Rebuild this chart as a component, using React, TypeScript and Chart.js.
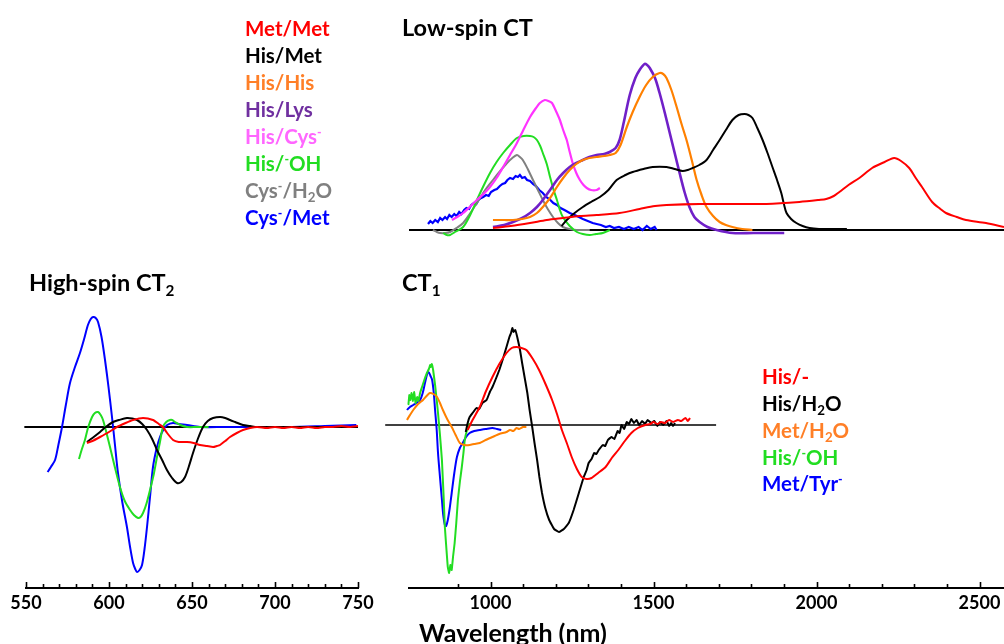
import React, { useEffect, useRef } from 'react';
import { Chart, registerables } from 'chart.js';

Chart.register(...registerables);

type Pt = [number, number];

// ---------- Low-spin CT panel: [wavelength nm, relative intensity] ----------
const metMetLS: Pt[] = [[1006,2],[1060,4],[1119,7],[1170,10],[1219,12],[1270,14],[1322,15],[1392,17],[1453,21],[1500,24],[1535,25],[1636,26],[1736,26],[1840,26],[1940,28],[2000,30],[2022,31],[2045,34],[2062,38],[2090,45],[2123,52],[2162,62],[2200,68],[2229,72],[2250,69],[2275,62],[2295,52],[2314,43],[2345,28],[2370,21],[2387,17],[2420,13],[2448,10],[2509,7],[2564,3]];
const hisMetLS: Pt[] = [[1215,4],[1231,10],[1255,17],[1280,23],[1305,28],[1332,33],[1358,40],[1383,50],[1410,55],[1432,58],[1465,61],[1493,63],[1535,63],[1560,61],[1584,59],[1600,60],[1615,62],[1635,65],[1657,70],[1677,80],[1697,90],[1716,100],[1736,110],[1755,115],[1773,116],[1785,115],[1797,112],[1812,102],[1828,90],[1843,77],[1858,63],[1872,50],[1885,37],[1893,26],[1901,17],[1915,11],[1931,7],[1950,4],[1971,2],[2000,1],[2030,1],[2085,1]];
const hisHisLS: Pt[] = [[1006,10],[1040,10],[1067,10],[1095,11],[1119,13],[1140,17],[1158,23],[1180,32],[1201,43],[1220,52],[1240,60],[1260,66],[1280,70],[1300,72],[1322,73],[1345,74],[1362,75],[1380,77],[1395,85],[1414,103],[1432,118],[1453,133],[1473,145],[1493,153],[1514,157],[1525,156],[1535,152],[1550,140],[1566,123],[1580,107],[1596,90],[1612,70],[1627,50],[1642,35],[1657,23],[1677,14],[1697,8],[1716,5],[1736,3],[1766,1],[1797,0]];
const hisLysLS: Pt[] = [[1006,3],[1040,5],[1067,8],[1095,12],[1119,17],[1140,23],[1158,30],[1180,40],[1201,50],[1220,57],[1240,63],[1260,67],[1280,70],[1300,73],[1322,75],[1345,76],[1362,78],[1380,82],[1392,90],[1405,108],[1423,135],[1440,152],[1453,160],[1468,166],[1476,165],[1484,162],[1500,152],[1514,137],[1530,117],[1545,97],[1560,77],[1575,57],[1590,38],[1605,23],[1620,13],[1636,8],[1660,3],[1688,0],[1736,-3],[1800,-3],[1894,-3]];
const hisCysLS: Pt[] = [[881,10],[897,13],[915,17],[935,23],[957,30],[977,36],[997,43],[1017,52],[1037,63],[1058,75],[1079,87],[1100,101],[1119,113],[1135,121],[1149,127],[1164,130],[1175,129],[1186,127],[1198,119],[1210,110],[1220,100],[1231,90],[1240,78],[1249,67],[1260,57],[1271,50],[1282,45],[1292,42],[1305,40],[1322,40],[1332,42]];
const hisOHLS: Pt[] = [[854,-3],[865,-5],[875,-5],[890,-2],[915,3],[935,14],[957,30],[977,44],[997,57],[1017,68],[1037,77],[1058,85],[1079,92],[1100,94],[1119,94],[1130,93],[1140,90],[1150,84],[1158,77],[1170,66],[1180,53],[1190,41],[1201,30],[1210,20],[1219,13],[1240,4],[1262,-2],[1280,-4],[1301,-5],[1320,-4],[1341,-3],[1362,0]];
const cysH2OLS: Pt[] = [[823,0],[835,-2],[845,-3],[860,-3],[875,-2],[895,2],[915,7],[935,16],[957,27],[980,39],[1006,50],[1028,59],[1049,67],[1065,72],[1079,75],[1088,73],[1097,70],[1112,61],[1128,50],[1143,40],[1158,30],[1173,21],[1189,13],[1204,7],[1219,3],[1240,1],[1262,0],[1301,0]];
const cysMetLS: Pt[] = [[808,6],[815,9],[822,7],[830,10],[838,8],[845,12],[852,10],[860,13],[866,11],[873,15],[880,13],[888,16],[895,14],[903,18],[910,16],[918,20],[925,22],[933,21],[940,25],[948,27],[955,26],[962,30],[970,32],[976,33],[985,35],[993,34],[1000,38],[1010,40],[1018,41],[1027,44],[1035,46],[1043,47],[1050,50],[1058,52],[1067,51],[1075,54],[1082,53],[1088,55],[1095,52],[1103,53],[1110,50],[1119,49],[1128,46],[1137,44],[1147,40],[1158,37],[1168,33],[1178,31],[1190,27],[1201,25],[1212,22],[1224,20],[1240,17],[1255,15],[1268,13],[1280,11],[1295,9],[1310,7],[1322,6],[1335,5],[1350,3],[1362,4],[1375,2],[1390,3],[1405,1],[1420,3],[1435,1],[1450,3],[1462,0],[1475,4],[1487,1],[1499,3],[1505,0]];
const baseLS: Pt[] = [[750,0],[2564,0]];

// ---------- High-spin CT2 panel ----------
const hisHS: Pt[] = [[586.7,-16],[590,-14],[594.6,-10],[600,-5],[604.8,0],[610,4],[614.5,7],[620.5,9],[626.5,7],[630,3],[632.5,0],[635,-6],[638.6,-13],[642,-15],[647,-15],[651,-16],[654.8,-18],[659,-19],[662.7,-20],[665,-19],[666.9,-18],[670,-14],[672.9,-10],[677,-6],[680.7,-3],[685,-1],[689.2,0],[695,-1],[700,0],[705,-1],[710,0],[715,-1],[720,0],[725,-1],[730,0],[735,0],[740,1],[745,0],[750,1]];
const hisH2OHS: Pt[] = [[586.7,-15],[590,-11],[594.6,-5],[598,0],[602.4,5],[606,7],[610.8,9],[614,8.5],[616.9,7],[620,3],[622.9,-3],[626,-12],[628.9,-23],[632,-33],[634.9,-43],[638,-51],[641,-56],[643.5,-55],[645.8,-50],[648,-40],[650.6,-26],[653.5,-12],[656.6,0],[659.5,6],[662.7,9],[666.9,10],[670,9],[672.9,7],[676,5],[680.7,2],[685,1],[689.2,0],[700,0],[720,0],[750,0]];
const hisOHHS: Pt[] = [[581.9,-32],[583.5,-23],[585.5,-13],[587.5,0],[589.8,10],[591.5,14],[593.4,15],[595,12],[596.4,7],[598.5,-6],[600.6,-20],[603.5,-40],[606.6,-60],[609.5,-74],[612.7,-83],[615,-88],[617.5,-91],[619,-90],[620.5,-86],[622.5,-77],[624.7,-63],[627,-47],[628.9,-30],[630.7,-15],[632.5,0],[634.5,5],[636.7,7],[638,7],[639.8,5],[643,2],[647,0],[653,0],[660,0]];
const metTyrHS: Pt[] = [[563,-45],[565,-40],[567.5,-33],[569.5,-18],[571.7,0],[574,22],[576.5,44],[579.5,60],[582.5,74],[585,88],[587.3,102],[589,108],[590.4,110],[592,109],[593.4,105],[595.5,90],[597.6,67],[599.7,40],[601.8,10],[603.6,-18],[605.4,-46],[608,-75],[610.8,-100],[612.7,-120],[614.5,-136],[615.8,-142],[616.9,-145],[618.4,-143],[619.9,-138],[621.4,-122],[622.9,-100],[624.7,-70],[626.5,-40],[628.6,-22],[630.7,-10],[633,-2],[635,2],[638.6,4],[642,3],[647,2],[654.8,0],[670,0],[690,0],[710,0],[730,1],[749,2]];
const baseHS: Pt[] = [[549,0],[750,0]];

// ---------- CT1 panel ----------
const hisCT1: Pt[] = [[930,-5],[945,5],[967,18],[985,33],[1006,48],[1027,61],[1049,72],[1065,77],[1079,78],[1095,77],[1110,75],[1130,66],[1149,55],[1170,40],[1189,25],[1205,10],[1219,-5],[1234,-18],[1249,-32],[1265,-44],[1280,-52],[1295,-54],[1310,-53],[1330,-48],[1353,-42],[1372,-33],[1392,-25],[1412,-16],[1432,-8],[1452,-3],[1475,0],[1490,1],[1500,3],[1512,1],[1523,3],[1535,2],[1548,5],[1560,3],[1575,5],[1585,4],[1598,7],[1605,4],[1612,7]];
const hisH2OCT1: Pt[] = [[924,-7],[930,2],[936,8],[945,12],[957,17],[965,16],[975,22],[988,25],[998,33],[1006,38],[1015,45],[1027,55],[1038,66],[1049,78],[1058,88],[1063,92],[1067,97],[1071,93],[1076,95],[1082,88],[1090,76],[1097,62],[1105,47],[1113,32],[1120,15],[1128,-2],[1135,-18],[1143,-35],[1150,-52],[1158,-68],[1168,-83],[1180,-95],[1195,-104],[1210,-107],[1225,-104],[1240,-98],[1255,-85],[1271,-68],[1286,-52],[1295,-45],[1301,-38],[1310,-34],[1318,-28],[1325,-29],[1332,-25],[1345,-20],[1352,-21],[1360,-15],[1371,-12],[1380,-14],[1390,-6],[1396,-8],[1402,0],[1410,-4],[1418,3],[1425,1],[1432,6],[1440,2],[1448,5],[1456,0],[1465,4],[1474,1],[1482,5],[1493,2],[1502,4],[1512,-1],[1520,3],[1530,0],[1540,4],[1548,-1],[1554,2],[1560,-1],[1566,2]];
const metH2OCT1: Pt[] = [[732,-8],[737,-2],[744,5],[753,10],[763,15],[778,21],[793,25],[804,29],[814,32],[825,31],[836,28],[845,22],[854,15],[867,6],[881,-2],[893,-10],[906,-18],[920,-20],[936,-20],[950,-19],[967,-18],[985,-15],[1006,-12],[1027,-9],[1049,-7],[1060,-5],[1070,-6],[1080,-3],[1088,-4],[1100,-2],[1110,-2]];
const hisOHCT1: Pt[] = [[741,15],[745,26],[748,20],[751,30],[754,25],[758,32],[762,24],[766,33],[770,22],[775,28],[779,24],[784,32],[790,38],[797,45],[805,52],[811,56],[815,60],[817,58],[820,61],[824,55],[830,40],[835,25],[839,12],[845,-10],[851,-35],[856,-70],[860,-102],[865,-125],[869,-142],[873,-148],[877,-140],[881,-145],[885,-132],[890,-118],[895,-98],[900,-75],[906,-57],[912,-42],[917,-28],[921,-15],[928,-5],[936,2]];
const metTyrCT1: Pt[] = [[726,2],[735,9],[744,15],[753,18],[763,20],[773,22],[784,25],[792,32],[799,42],[804,49],[808,53],[812,52],[816,49],[821,45],[826,32],[830,15],[835,-5],[839,-28],[845,-52],[851,-75],[855,-90],[860,-100],[864,-101],[869,-95],[875,-83],[881,-68],[889,-48],[897,-32],[906,-23],[915,-18],[925,-12],[936,-8],[950,-6],[967,-5],[985,-4],[1006,-3],[1020,-4],[1033,-5]];
const baseCT1: Pt[] = [[677,0],[1692,0]];

// tick labels
const hsTickLabels = [550, 600, 650, 700, 750];
const ct1TickLabels = [1000, 1500, 2000, 2500];

const C = {
  red: '#ff0000', black: '#000000', orange: '#ff8000', purple: '#7020c8',
  magenta: '#ff33ff', green: '#22dd22', gray: '#808080', blue: '#0000ff',
};
const FONT = 'Lato, "Open Sans", sans-serif';

function ds(label: string, pts: Pt[], color: string, width = 2, tension = 0.3) {
  return {
    label,
    data: pts.map(([x, y]) => ({ x, y })),
    borderColor: color,
    backgroundColor: color,
    borderWidth: width,
    pointRadius: 0,
    fill: false,
    tension,
    clip: false as const,
  };
}

function tickMarks(minor: number, major: number) {
  return {
    id: 'tickMarks',
    afterDraw(chart: any) {
      const s = chart.scales.x;
      const ctx = chart.ctx;
      const y = s.top;
      ctx.save();
      ctx.strokeStyle = '#000';
      ctx.lineWidth = 1.6;
      for (const t of s.ticks) {
        const v = t.value;
        if (Math.abs(v % minor) > 1e-6) continue;
        const len = Math.abs(v % major) < 1e-6 ? 6 : 4;
        const x = Math.round(s.getPixelForValue(v)) + 0.5;
        ctx.beginPath();
        ctx.moveTo(x, y);
        ctx.lineTo(x, y - len);
        ctx.stroke();
      }
      ctx.restore();
    },
  };
}

function makeConfig(datasets: any[], x: any, y: any, padding: any, plugins: any[] = []) {
  return {
    type: 'line',
    data: { datasets },
    options: {
      animation: false,
      responsive: false,
      events: [],
      layout: { padding },
      plugins: { legend: { display: false }, tooltip: { enabled: false }, title: { display: false } },
      scales: { x, y },
    },
    plugins,
  } as any;
}

function xAxis(min: number, max: number, step: number, labels: number[]) {
  return {
    type: 'linear',
    min,
    max,
    display: true,
    afterFit: (s: any) => { s.height = 56; },
    border: { display: true, color: '#000', width: 2 },
    grid: { display: true, drawOnChartArea: false, drawTicks: false },
    ticks: {
      stepSize: step,
      autoSkip: false,
      maxRotation: 0,
      padding: 4,
      color: '#000',
      font: { family: FONT, weight: 'bold', size: 18 },
      callback: (v: number) => (labels.includes(v) ? String(v) : ''),
    },
  };
}

function Panel({ left, top, width, height, make }: any) {
  const ref = useRef<HTMLCanvasElement>(null);
  useEffect(() => {
    const chart = new Chart(ref.current as HTMLCanvasElement, make());
    return () => chart.destroy();
  }, []);
  return (
    <canvas
      ref={ref}
      width={width}
      height={height}
      style={{ position: 'absolute', left, top, width, height, display: 'block' }}
    />
  );
}

function T({ x, y, color = '#000', size = 20.5, children }: any) {
  return (
    <div
      style={{
        position: 'absolute', left: x, top: y, transform: 'translateY(-50%)',
        color, fontFamily: FONT, fontWeight: 700, fontSize: size, lineHeight: 1, whiteSpace: 'nowrap',
      }}
    >
      {children}
    </div>
  );
}
const Sup = ({ children }: any) => <sup style={{ fontSize: '0.6em', verticalAlign: '0.55em', lineHeight: 0 }}>{children}</sup>;
const Sub = ({ children }: any) => <sub style={{ fontSize: '0.65em', verticalAlign: '-0.3em', lineHeight: 0 }}>{children}</sub>;

export default function App() {
  const lowSpin = () =>
    makeConfig(
      [
        ds('Met/Met', metMetLS, C.red),
        ds('His/Met', hisMetLS, C.black),
        ds('His/His', hisHisLS, C.orange, 2.2),
        ds('His/Lys', hisLysLS, C.purple, 2.6),
        ds('His/Cys-', hisCysLS, C.magenta, 2.2, 0.2),
        ds('His/-OH', hisOHLS, C.green),
        ds('Cys-/H2O', cysH2OLS, C.gray),
        ds('Cys-/Met', cysMetLS, C.blue, 2.2, 0),
        ds('baseline', baseLS, C.black, 2, 0),
      ],
      { type: 'linear', min: 750, max: 2564, display: false },
      { type: 'linear', min: -20, max: 190, display: false },
      { left: 29, right: 0, top: 0, bottom: 0 }
    );

  const highSpin = () =>
    makeConfig(
      [
        ds('His/-', hisHS, C.red, 2, 0.2),
        ds('His/H2O', hisH2OHS, C.black),
        ds('His/-OH', hisOHHS, C.green),
        ds('Met/Tyr-', metTyrHS, C.blue),
        ds('baseline', baseHS, C.black, 2, 0),
      ],
      xAxis(550, 750, 10, hsTickLabels),
      { type: 'linear', min: -161, max: 137, display: false },
      { left: 26, right: 22, top: 0, bottom: 0 },
      [tickMarks(10, 50)]
    );

  const ct1 = () =>
    makeConfig(
      [
        ds('His/-', hisCT1, C.red, 2, 0.2),
        ds('His/H2O', hisH2OCT1, C.black, 2, 0.1),
        ds('Met/H2O', metH2OCT1, C.orange, 2, 0.2),
        ds('His/-OH', hisOHCT1, C.green, 2, 0.1),
        ds('Met/Tyr-', metTyrCT1, C.blue, 2, 0.3),
        ds('baseline', baseCT1, C.black, 1.6, 0),
      ],
      xAxis(750, 2796, 100, ct1TickLabels),
      { type: 'linear', min: -163, max: 135, display: false },
      { left: 29, right: 0, top: 0, bottom: 0 },
      [tickMarks(100, 500)]
    );

  return (
    <div style={{ position: 'fixed', left: 0, top: 0, width: 1004, height: 644, background: '#fff', overflow: 'hidden' }}>
      <Panel left={380} top={40} width={624} height={210} make={lowSpin} />
      <Panel left={0} top={290} width={380} height={354} make={highSpin} />
      <Panel left={380} top={290} width={700} height={354} make={ct1} />

      <T x={402} y={28} size={23.5}>Low-spin CT</T>
      <T x={29} y={283} size={23.5}>High-spin CT<Sub>2</Sub></T>
      <T x={402} y={283} size={23.5}>CT<Sub>1</Sub></T>
      <T x={419} y={632} size={25}>Wavelength (nm)</T>

      <T x={245} y={28} color={C.red}>Met/Met</T>
      <T x={245} y={55} color={C.black}>His/Met</T>
      <T x={245} y={82} color="#ff7f27">His/His</T>
      <T x={245} y={109} color="#7030a0">His/Lys</T>
      <T x={245} y={136} color="#ff66ff">His/Cys<Sup>-</Sup></T>
      <T x={245} y={163} color={C.green}>His/<Sup>-</Sup>OH</T>
      <T x={245} y={190} color={C.gray}>Cys<Sup>-</Sup>/H<Sub>2</Sub>O</T>
      <T x={245} y={217} color={C.blue}>Cys<Sup>-</Sup>/Met</T>

      <T x={762} y={376} color={C.red}>His/-</T>
      <T x={762} y={403} color={C.black}>His/H<Sub>2</Sub>O</T>
      <T x={762} y={430} color="#ff7f27">Met/H<Sub>2</Sub>O</T>
      <T x={762} y={457} color={C.green}>His/<Sup>-</Sup>OH</T>
      <T x={762} y={483} color={C.blue}>Met/Tyr<Sup>-</Sup></T>
    </div>
  );
}
